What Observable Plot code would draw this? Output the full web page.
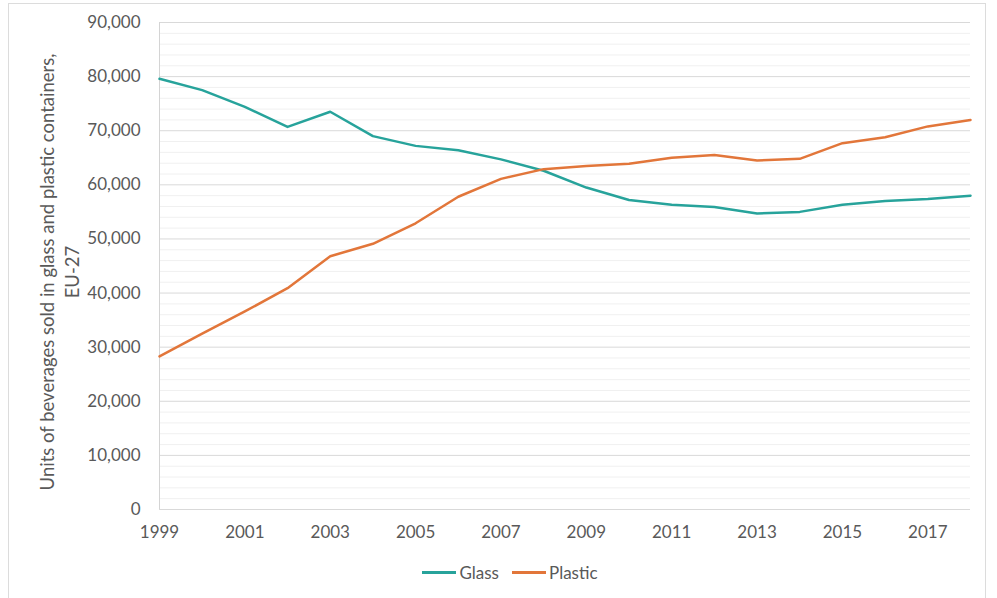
<!DOCTYPE html>
<html>
<head>
<meta charset="utf-8">
<script src="https://cdn.jsdelivr.net/npm/d3@7"></script>
<script src="https://cdn.jsdelivr.net/npm/@observablehq/plot@0.6"></script>
<style>
  html, body { margin: 0; padding: 0; background: #fff; }
  #wrap { position: relative; width: 997px; height: 598px; overflow: hidden; font-family: Lato, "Open Sans", sans-serif; }
  #frame { position: absolute; left: 8px; top: 3px; width: 978px; height: 600px; border: 1px solid #dcdcdc; box-sizing: border-box; }
  #chart { position: absolute; left: 0; top: 0; }
  #legend { position: absolute; left: 0; top: 562px; width: 1020px; display: flex; justify-content: center; gap: 13px; color: #595959; font-size: 17px; }
  .item { display: flex; align-items: center; }
  .sw { width: 34px; height: 2.5px; margin-right: 3px; }
</style>
</head>
<body>
<div id="wrap">
  <div id="frame"></div>
  <div id="chart"></div>
  <div id="legend"></div>
</div>
<script>
const years   = [1999, 2000, 2001, 2002, 2003, 2004, 2005, 2006, 2007, 2008, 2009, 2010, 2011, 2012, 2013, 2014, 2015, 2016, 2017, 2018];
const glass   = [79600, 77500, 74400, 70700, 73500, 69000, 67200, 66400, 64700, 62600, 59500, 57200, 56300, 55900, 54700, 55000, 56300, 57000, 57400, 58000];
const plastic = [28300, 32500, 36600, 40900, 46800, 49100, 52900, 57800, 61100, 62900, 63500, 63900, 65000, 65500, 64500, 64800, 67700, 68800, 70800, 72000];
const seriesNames = ["Glass", "Plastic"];
const seriesColors = ["#27a39b", "#e2763a"];
const xTicks = [1999, 2001, 2003, 2005, 2007, 2009, 2011, 2013, 2015, 2017];
const yTicks = [0, 10000, 20000, 30000, 40000, 50000, 60000, 70000, 80000, 90000];
const yLabel = "Units of beverages sold in glass and plastic containers,\nEU-27";

const minorTicks = d3.range(0, 90001, 2000).filter(v => v % 10000 !== 0);
const data = years.flatMap((yr, i) => [
  {year: yr, value: glass[i], series: seriesNames[0]},
  {year: yr, value: plastic[i], series: seriesNames[1]}
]);

const chart = Plot.plot({
  width: 997,
  height: 556,
  marginLeft: 159,
  marginRight: 27,
  marginTop: 22,
  marginBottom: 47,
  style: {fontFamily: "Lato, 'Open Sans', sans-serif", fontSize: "17px", color: "#595959", background: "transparent"},
  x: {domain: [1999, 2018], ticks: xTicks, tickFormat: d => String(d), tickSize: 0, tickPadding: 16, label: null},
  y: {domain: [0, 90000], ticks: yTicks, tickFormat: d3.format(","), tickSize: 0, tickPadding: 19, label: null},
  color: {domain: seriesNames, range: seriesColors},
  marks: [
    Plot.ruleY(minorTicks, {stroke: "#f0f0f0", strokeWidth: 1}),
    Plot.ruleY(yTicks, {stroke: "#d9d9d9", strokeWidth: 1}),
    Plot.ruleX([1999], {stroke: "#d4d4d4", strokeWidth: 1}),
    Plot.line(data, {x: "year", y: "value", z: "series", stroke: "series", strokeWidth: 2.5}),
    Plot.text([yLabel], {frameAnchor: "left", textAnchor: "middle", rotate: -90, dx: -101, dy: 6, lineAnchor: "middle", lineHeight: 1.35, fontSize: 18.5, fill: "#595959"})
  ]
});
document.getElementById("chart").appendChild(chart);

const legend = document.getElementById("legend");
seriesNames.forEach((name, i) => {
  const it = document.createElement("div");
  it.className = "item";
  const sw = document.createElement("div");
  sw.className = "sw";
  sw.style.background = seriesColors[i];
  const t = document.createElement("span");
  t.textContent = name;
  it.appendChild(sw); it.appendChild(t);
  legend.appendChild(it);
});
</script>
</body>
</html>
